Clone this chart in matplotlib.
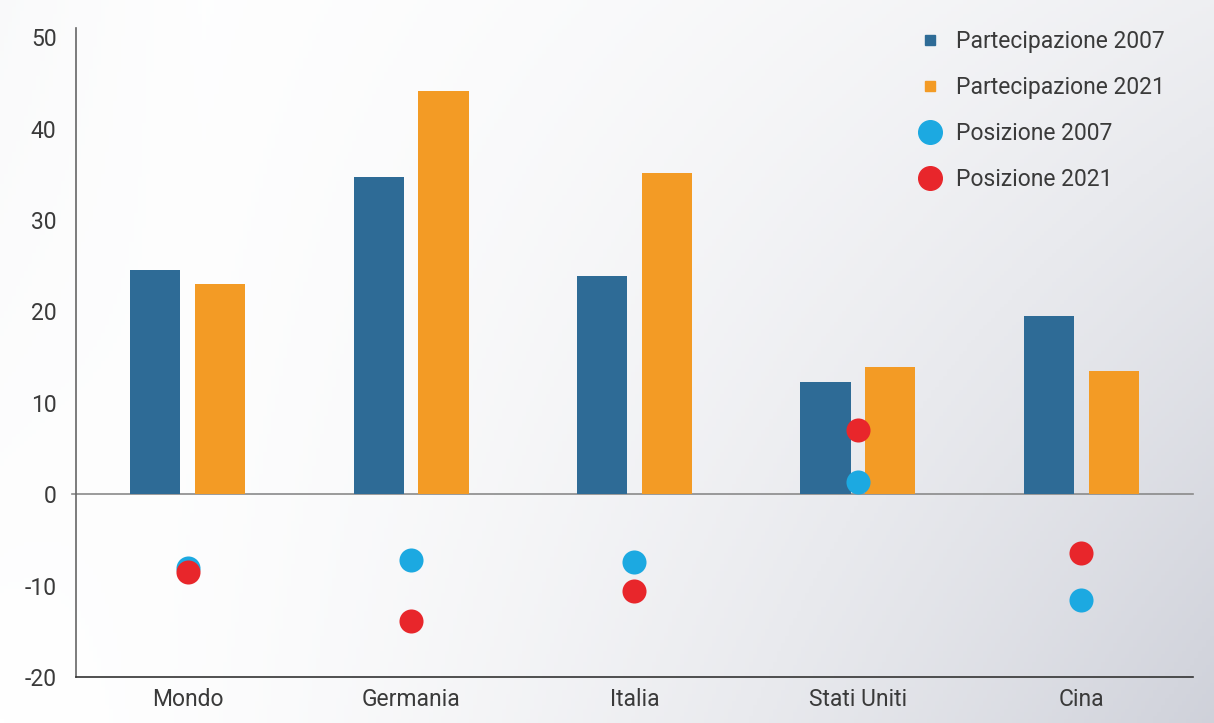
import numpy as np
import matplotlib.pyplot as plt
from matplotlib.lines import Line2D

plt.rcParams['font.family'] = ['Roboto', 'DejaVu Sans']
plt.rcParams['axes.unicode_minus'] = False

paesi = ['Mondo', 'Germania', 'Italia', 'Stati Uniti', 'Cina']
partecipazione_2007 = [24.5, 34.7, 23.9, 12.3, 19.5]
partecipazione_2021 = [23.0, 44.1, 35.1, 13.9, 13.5]
posizione_2007 = [-8.1, -7.2, -7.4, 1.3, -11.6]
posizione_2021 = [-8.5, -13.9, -10.6, 7.0, -6.4]

c_blu = '#2E6B96'
c_arancio = '#F39B25'
c_ciano = '#1CA9E1'
c_rosso = '#E8262B'
c_testo = '#3A3A3A'

fig = plt.figure(figsize=(12.14, 7.23), dpi=100)

# sfondo sfumato: bianco in alto a sinistra, grigio in basso a destra
bg = fig.add_axes([0, 0, 1, 1], zorder=-10)
xx, yy = np.meshgrid(np.linspace(0, 1, 300), np.linspace(0, 1, 200))
grad = 0.85 * xx ** 1.6 * (0.35 + 0.65 * yy) + 0.10 * np.clip(1 - xx * 6, 0, 1) * (1 - yy)
grad = np.clip(grad, 0, 1)
c0 = np.array([1.0, 1.0, 1.0])
c1 = np.array([0.78, 0.79, 0.83])
img = c0 + (c1 - c0) * grad[..., None]
bg.imshow(img, extent=[0, 1, 0, 1], aspect='auto', origin='upper')
bg.axis('off')

ax = fig.add_axes([0.0626, 0.0636, 0.9201, 0.8976])
ax.patch.set_alpha(0)

x = np.arange(len(paesi))
w = 0.224
off = 0.145
ax.bar(x - off, partecipazione_2007, w, color=c_blu, zorder=2)
ax.bar(x + off, partecipazione_2021, w, color=c_arancio, zorder=2)
ax.scatter(x, posizione_2007, s=300, color=c_ciano, zorder=3, linewidths=0)
ax.scatter(x, posizione_2021, s=300, color=c_rosso, zorder=4, linewidths=0)

ax.axhline(0, color='#8a8a8a', lw=1.2, zorder=1, xmin=-0.004, clip_on=False)

ax.set_xlim(-0.5, 4.5)
ax.set_ylim(-20, 51)
ax.set_yticks(range(-20, 51, 10))
ax.set_xticks(x)
ax.set_xticklabels(paesi)
ax.tick_params(axis='both', length=0, labelsize=16.5, colors=c_testo)
ax.tick_params(axis='y', pad=14)
ax.tick_params(axis='x', pad=8)
for s in ['top', 'right']:
    ax.spines[s].set_visible(False)
ax.spines['left'].set_color('#666666')
ax.spines['bottom'].set_color('#333333')
ax.spines['left'].set_linewidth(1.2)
ax.spines['bottom'].set_linewidth(1.2)

handles = [
    Line2D([], [], ls='', marker='s', ms=7, color=c_blu),
    Line2D([], [], ls='', marker='s', ms=7, color=c_arancio),
    Line2D([], [], ls='', marker='o', ms=17, color=c_ciano),
    Line2D([], [], ls='', marker='o', ms=17, color=c_rosso),
]
labels = ['Partecipazione 2007', 'Partecipazione 2021', 'Posizione 2007', 'Posizione 2021']
leg = fig.legend(handles, labels, loc='upper left', bbox_to_anchor=(0.738, 0.987),
                 frameon=False, fontsize=16.5, labelspacing=1.0, handletextpad=0.5,
                 handlelength=1.2, labelcolor=c_testo)

fig.savefig('out.png', dpi=100)
